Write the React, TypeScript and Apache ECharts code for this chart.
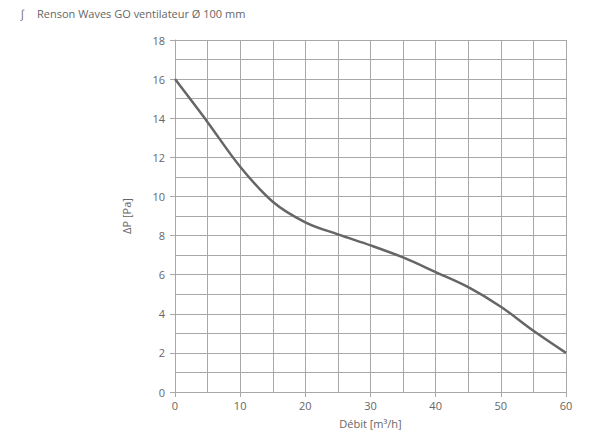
import React, { useEffect, useRef } from "react";
import * as echarts from "echarts";

const flowValues = [0, 5, 10, 15, 20, 25, 30, 35, 40, 45, 50, 55, 60];
const pressureValues = [16.0, 13.8, 11.52, 9.73, 8.68, 8.06, 7.5, 6.88, 6.13, 5.36, 4.36, 3.13, 2.0];
const titleText = "Renson Waves GO ventilateur Ø 100 mm";
const xName = "Débit [m³/h]";
const yName = "ΔP [Pa]";

const FONT = "'Open Sans', 'Noto Sans', sans-serif";
const TXT = "#666666";
const GRID = "#a8a8a8";

export default function App() {
  const ref = useRef<HTMLDivElement>(null);
  useEffect(() => {
    if (!ref.current) return;
    const chart = echarts.init(ref.current, undefined, { renderer: "svg" });
    const data = flowValues.map((x, i) => [x, pressureValues[i]]);
    chart.setOption({
      animation: false,
      backgroundColor: "#ffffff",
      textStyle: { fontFamily: FONT },
      graphic: [
        { type: "text", left: 20, top: 8, style: { text: "∫", fontSize: 11, fill: TXT, fontFamily: FONT } },
        { type: "text", left: 37, top: 8, style: { text: titleText, fontSize: 11, fill: TXT, fontFamily: FONT } },
      ],
      grid: { left: 175, right: 34, top: 40, bottom: 49, containLabel: false },
      xAxis: {
        type: "value",
        min: 0,
        max: 60,
        interval: 10,
        name: xName,
        nameLocation: "middle",
        nameGap: 26,
        nameTextStyle: { color: TXT, fontSize: 11, fontFamily: FONT },
        axisLine: { show: true, lineStyle: { color: GRID, width: 1 } },
        axisTick: { show: true, length: 5, lineStyle: { color: GRID } },
        axisLabel: { color: TXT, fontSize: 11, fontFamily: FONT, margin: 8 },
        splitLine: { show: true, lineStyle: { color: GRID, width: 1 } },
        minorTick: { show: false, splitNumber: 2 },
        minorSplitLine: { show: true, lineStyle: { color: GRID, width: 1 } },
      },
      yAxis: {
        type: "value",
        min: 0,
        max: 18,
        interval: 2,
        name: yName,
        nameLocation: "middle",
        nameGap: 43,
        nameTextStyle: { color: TXT, fontSize: 11, fontFamily: FONT },
        axisLine: { show: true, lineStyle: { color: GRID, width: 1 } },
        axisTick: { show: true, length: 5, lineStyle: { color: GRID } },
        axisLabel: { color: TXT, fontSize: 11, fontFamily: FONT, margin: 10 },
        splitLine: { show: true, lineStyle: { color: GRID, width: 1 } },
        minorTick: { show: false, splitNumber: 2 },
        minorSplitLine: { show: true, lineStyle: { color: GRID, width: 1 } },
      },
      series: [
        {
          type: "line",
          data,
          smooth: 0.35,
          symbol: "none",
          lineStyle: { color: "#666666", width: 2.5 },
        },
      ],
    });
    return () => chart.dispose();
  }, []);
  return (
    <div
      ref={ref}
      style={{ position: "fixed", left: 0, top: 0, width: 600, height: 441 }}
    />
  );
}
